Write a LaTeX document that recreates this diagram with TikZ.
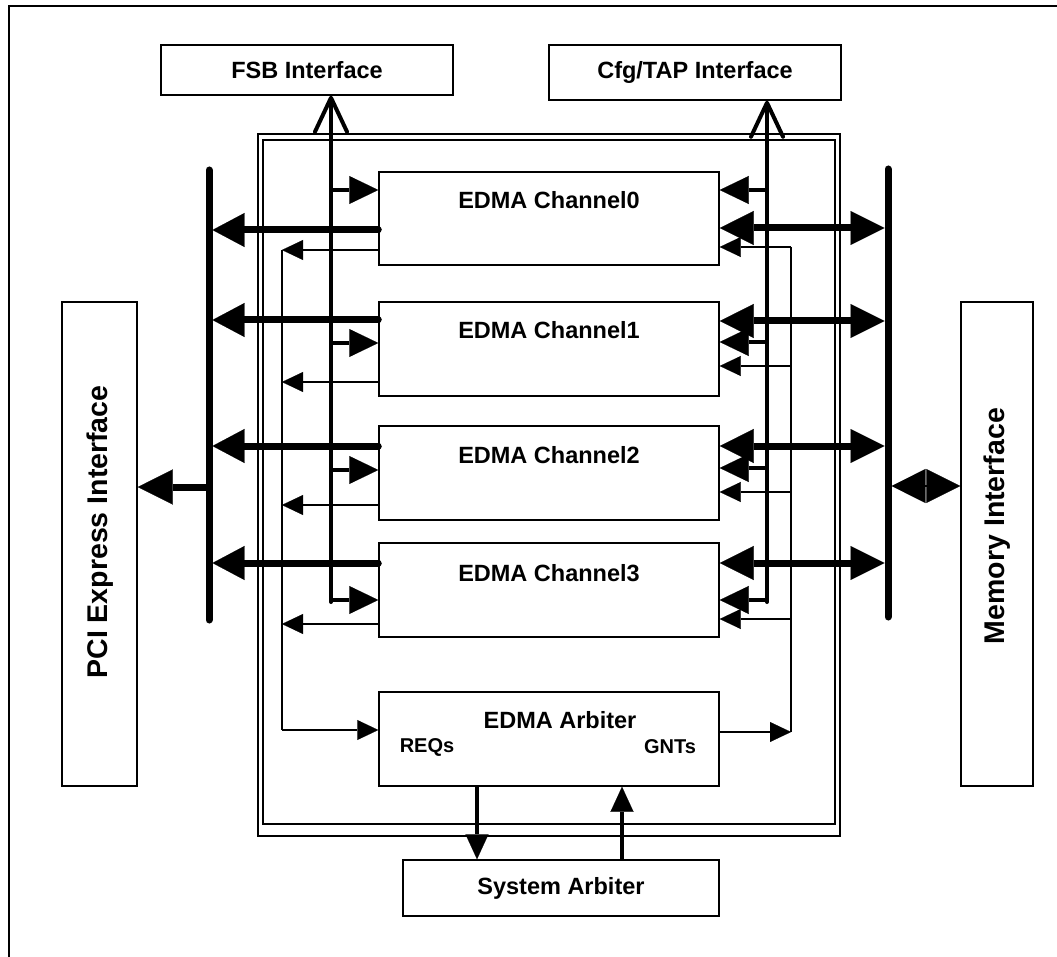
\documentclass[tikz,border=0pt]{standalone}
\usepackage{fontspec}
\setmainfont{Liberation Sans}
\usetikzlibrary{arrows.meta}
\begin{document}
\begin{tikzpicture}[x=1pt,y=-1pt,
  box/.style={draw,line width=1.5pt,rectangle,inner sep=0pt},
  lbl/.style={font=\fontsize{23.5}{28}\selectfont\bfseries,inner sep=0pt},
  side/.style={font=\fontsize{28.5}{32}\selectfont\bfseries,inner sep=0pt,rotate=90},
  small/.style={font=\fontsize{20}{24}\selectfont\bfseries,inner sep=0pt},
  bus/.style={line width=7pt,line cap=round},
  bigarr/.style={line width=7pt,line cap=round,-{Triangle[length=32pt,width=34pt,line width=0.1pt]}},
  pciarr/.style={line width=7pt,-{Triangle[length=35pt,width=35pt,line width=0.1pt]}},
  bidir/.style={line width=7pt,{Triangle[length=34pt,width=34pt,line width=0.1pt]}-{Triangle[length=34pt,width=34pt,line width=0.1pt]}},
  memarr/.style={line width=2pt,-{Triangle[length=34pt,width=34pt,line width=0.1pt]}},
  medarr/.style={line width=4pt,-{Triangle[length=29pt,width=28pt,line width=0.1pt]}},
  thinarr/.style={line width=1.5pt,-{Triangle[length=21pt,width=20pt,line width=0.1pt]}},
  vline/.style={line width=4pt,line cap=round,-{Straight Barb[length=34pt,width=32pt,round]}},
  arbarr/.style={line width=3.5pt,-{Triangle[length=25pt,width=23pt,line width=0.1pt]}},
  thinline/.style={line width=1.5pt},
]
\useasboundingbox (0,0) rectangle (1057,957);
% outer frame (visible part)
\draw[line width=1.8pt] (9,957) -- (9,6) -- (1057,6);
% interface boxes
\node[box,lbl,minimum width=292pt,minimum height=50pt] (fsb) at (307,70) {FSB Interface};
\node[box,lbl,minimum width=292pt,minimum height=55pt] (cfg) at (695,72.5) {Cfg/TAP Interface};
\node[box,minimum width=75pt,minimum height=484pt] (pci) at (99.5,544) {};
\node[side] at (100,532) {PCI Express Interface};
\node[box,minimum width=72pt,minimum height=484pt] (mem) at (997,544) {};
\node[side] at (997,526) {Memory Interface};
% double frame
\draw[line width=1.2pt] (258,134) rectangle (840,836);
\draw[line width=2pt] (263,140) rectangle (835,824);
% channels
\node[box,minimum width=340pt,minimum height=93pt] (ch0) at (549,218.5) {};
\node[box,minimum width=340pt,minimum height=94pt] (ch1) at (549,349) {};
\node[box,minimum width=340pt,minimum height=94pt] (ch2) at (549,473) {};
\node[box,minimum width=340pt,minimum height=94pt] (ch3) at (549,590) {};
\node[lbl] at (549,200) {EDMA Channel0};
\node[lbl] at (549,330) {EDMA Channel1};
\node[lbl] at (549,455) {EDMA Channel2};
\node[lbl] at (549,573) {EDMA Channel3};
% arbiters
\node[box,minimum width=340pt,minimum height=94pt] (arb) at (549,739) {};
\node[lbl] at (560,720) {EDMA Arbiter};
\node[small] at (427,747) {REQs};
\node[small] at (670,747) {GNTs};
\node[box,lbl,minimum width=316pt,minimum height=56pt] (sys) at (561,888) {System Arbiter};
% buses and lines
\coordinate (lbusT) at (209,170); \coordinate (lbusB) at (209,620);
\coordinate (lbusE) at (212.5,170);
\coordinate (rbusT) at (888,169); \coordinate (rbusB) at (888,617);
\coordinate (rbusW) at (884.5,169); \coordinate (rbusE) at (891.5,169);
\coordinate (fsbB) at (331,602);
\coordinate (cfgB) at (767,602);
\coordinate (lthT) at (282,250); \coordinate (lthB) at (282,730);
\coordinate (rthT) at (791,247); \coordinate (rthB) at (791,732);
\coordinate (mmid) at (926,486);
\draw[bus] (lbusT) -- (lbusB);
\draw[bus] (rbusT) -- (rbusB);
\draw[pciarr] (lbusT |- 0,487) -- (pci.east |- 0,487);
\draw[memarr] ([xshift=-1pt]mmid) -- (rbusE |- mmid);
\draw[memarr] ([xshift=1pt]mmid) -- (mem.west |- mmid);
\draw[vline] (fsbB) -- (fsbB |- fsb.south);
\draw[vline] (cfgB) -- (cfgB |- cfg.south);
\draw[thinline] (lthT) -- (lthB);
\draw[thinline] (rthT) -- (rthB);
% channel connectors, left side
\foreach \c/\t/\f/\r in {ch0/230/190/250, ch1/320/343/382, ch2/446/470/505, ch3/563/600/624} {
  \draw[bigarr] (\c.west |- 0,\t) -- (lbusE |- 0,\t);
  \draw[medarr] (fsbB |- 0,\f) -- (\c.west |- 0,\f);
  \draw[thinarr] (\c.west |- 0,\r) -- (lthT |- 0,\r);
}
% channel connectors, right side
\foreach \c/\b/\g/\k in {ch0/228/190/247, ch1/321/342/366, ch2/446/468/492, ch3/563/600/619} {
  \draw[bidir] (\c.east |- 0,\b) -- (rbusW |- 0,\b);
  \draw[medarr] (cfgB |- 0,\g) -- (\c.east |- 0,\g);
  \draw[thinarr] (rthT |- 0,\k) -- (\c.east |- 0,\k);
}
% arbiter connectors
\draw[thinarr] (lthB) -- (arb.west |- lthB);
\draw[thinarr] (arb.east |- rthB) -- (rthB);
\draw[arbarr] (arb.south -| 477,0) -- (sys.north -| 477,0);
\draw[arbarr] (sys.north -| 622,0) -- (arb.south -| 622,0);
\end{tikzpicture}
\end{document}
